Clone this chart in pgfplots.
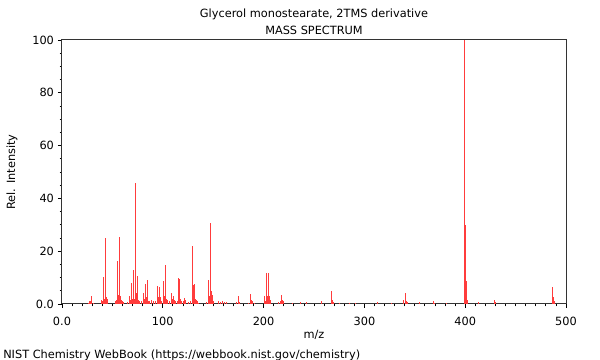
\documentclass[border=0pt]{standalone}
\usepackage{fontspec}
\setmainfont{DejaVu Sans}
\usepackage{pgfplots}
\pgfplotsset{compat=1.18}
\usepackage{pgfplotstable}
\definecolor{specred}{RGB}{255,60,60}
\pgfplotstableread{
mz I
26 0.5
27 1
28 1
29 3
31 0.5
39 1.5
40 1
41 10.3
42 2
43 25
44 2.8
45 2
53 1
54 1.5
55 16.3
56 3.5
57 25.4
58 3
59 1.5
60 1
61 0.8
65 0.7
67 3
68 1.5
69 8
70 2
71 13
72 2
73 46
74 4
75 10.5
76 1.5
77 1.2
79 1
81 4
82 2
83 7.5
84 2.5
85 9
86 1
87 1
89 1.5
91 1
93 1
95 6.8
96 2.8
97 6.3
98 2.8
99 1
101 8.7
102 3
103 14.6
104 2
105 1.5
107 1
109 4
110 2
111 3
112 1.5
113 1
115 1
116 9.8
117 9.5
118 2
119 1
121 1
122 2.4
123 1.5
125 0.8
127 1
129 22
130 7.2
131 7.6
132 2
133 1.5
134 1
135 0.5
143 0.8
145 9.1
146 3
147 30.5
148 5
149 3.4
150 1
155 1
157 0.7
159 1.3
161 0.7
163 0.7
173 0.7
175 3
176 0.7
185 0.5
187 3.8
188 1.5
189 1
191 0.5
201 3.2
202 1
203 11.6
204 3
205 11.6
206 3
207 1.5
215 0.7
217 1
218 3.3
219 1.5
220 1
229 0.4
237 0.6
243 0.6
257 1.2
267 4.8
268 1.5
269 0.6
275 0.5
285 0.4
291 0.4
313 0.6
327 0.4
339 1.5
341 4.3
342 1.3
343 0.6
355 0.8
369 1
370 0.5
381 0.3
399 100
400 30
401 8.6
402 1.5
413 0.8
429 1.5
430 0.6
487 6.4
488 2.5
489 1
}\spectrum
\begin{document}
\fontsize{8.5}{10}\selectfont
\begin{tikzpicture}
\useasboundingbox (-46.5pt,-42pt) rectangle (403.5pt,228pt);
\begin{axis}[
  at={(0,0)}, anchor=south west,
  scale only axis, width=378pt, height=198pt,
  xmin=0, xmax=500, ymin=0, ymax=100,
  xtick={0,100,200,300,400,500},
  xticklabels={0.0,100,200,300,400,500},
  ytick={0,20,40,60,80,100},
  yticklabels={0.0,20,40,60,80,100},
  minor x tick num=9, minor y tick num=3,
  tick align=outside,
  xtick pos=bottom, ytick pos=left,
  major tick length=3pt, minor tick length=1.8pt,
  every tick/.style={black, line width=0.6pt},
  axis line style={line width=0.75pt, black!80},
  tick label style={font=\fontsize{8.5}{10}\selectfont},
  xticklabel style={yshift=-3.5pt},
  /pgf/number format/assume math mode=true,
  xlabel={m/z}, ylabel={Rel. Intensity},
  every axis x label/.style={at={(axis description cs:0.5,-0.117)}, anchor=center, font=\fontsize{8.5}{10}\selectfont},
  every axis y label/.style={at={(axis description cs:-0.0992,0.5)}, rotate=90, anchor=center, font=\fontsize{8.5}{10}\selectfont},
  title={Glycerol monostearate, 2TMS derivative\\MASS SPECTRUM},
  title style={at={(axis description cs:0.5,1)}, anchor=center, yshift=7.9pt, align=center, font=\fontsize{8.5}{12.75}\selectfont},
  clip=true,
]
\addplot[ycomb, specred, line width=0.75pt, no markers] table[x=mz, y=I] {\spectrum};
\end{axis}
\node[anchor=west, inner sep=0pt] at (-44.25pt,-38.25pt) {NIST Chemistry WebBook (https://webbook.nist.gov/chemistry)};
\end{tikzpicture}
\end{document}
